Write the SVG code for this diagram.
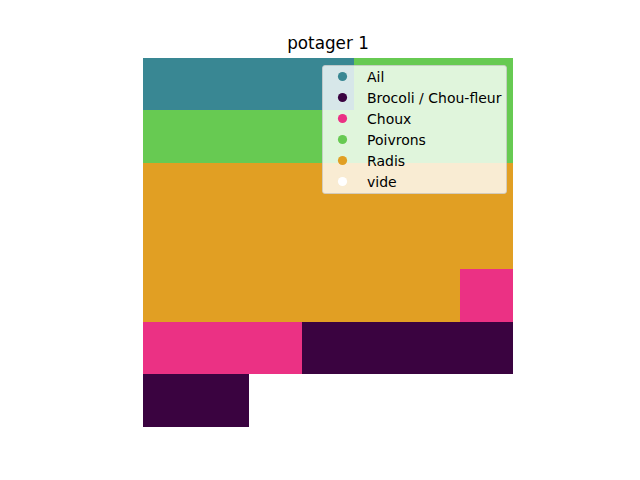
<svg xmlns="http://www.w3.org/2000/svg" width="640" height="480" viewBox="0 0 640 480">
<style>
text{font-family:"DejaVu Sans","Liberation Sans",sans-serif;fill:#000}
.lg{font-size:14px}
.ail{fill:#398793}.bro{fill:#3a0340}.chx{fill:#eb3184}.poi{fill:#67ca52}.rad{fill:#e19f23}.vid{fill:#ffffff}
</style>
<rect width="640" height="480" fill="#fff"/>
<g id="grid" shape-rendering="crispEdges">
<rect class="ail" x="143.2" y="57.6" width="211.2" height="52.8"/>
<rect class="poi" x="354.4" y="57.6" width="158.4" height="52.8"/>
<rect class="poi" x="143.2" y="110.4" width="369.6" height="52.8"/>
<rect class="rad" x="143.2" y="163.2" width="369.6" height="105.6"/>
<rect class="rad" x="143.2" y="268.8" width="316.8" height="52.8"/>
<rect class="chx" x="460" y="268.8" width="52.8" height="52.8"/>
<rect class="chx" x="143.2" y="321.6" width="158.4" height="52.8"/>
<rect class="bro" x="301.6" y="321.6" width="211.2" height="52.8"/>
<rect class="bro" x="143.2" y="374.4" width="105.6" height="52.8"/>
</g>
<text x="328" y="49" font-size="16.8" text-anchor="middle">potager 1</text>
<g id="legend">
<rect x="322.5" y="65.5" width="184" height="128" rx="2.5" fill="#fff" fill-opacity="0.8" stroke="#ccc" stroke-opacity="0.8"/>
<circle class="ail" cx="342.5" cy="76.5" r="4.6"/>
<circle class="bro" cx="342.5" cy="97.5" r="4.6"/>
<circle class="chx" cx="342.5" cy="118.5" r="4.6"/>
<circle class="poi" cx="342.5" cy="139.5" r="4.6"/>
<circle class="rad" cx="342.5" cy="160.5" r="4.6"/>
<circle class="vid" cx="342.5" cy="181.5" r="4.6"/>
<text class="lg" x="367" y="81.5">Ail</text>
<text class="lg" x="367" y="102.5">Brocoli / Chou-fleur</text>
<text class="lg" x="367" y="123.5">Choux</text>
<text class="lg" x="367" y="144.5">Poivrons</text>
<text class="lg" x="367" y="165.5">Radis</text>
<text class="lg" x="367" y="186.5">vide</text>
</g>
</svg>
